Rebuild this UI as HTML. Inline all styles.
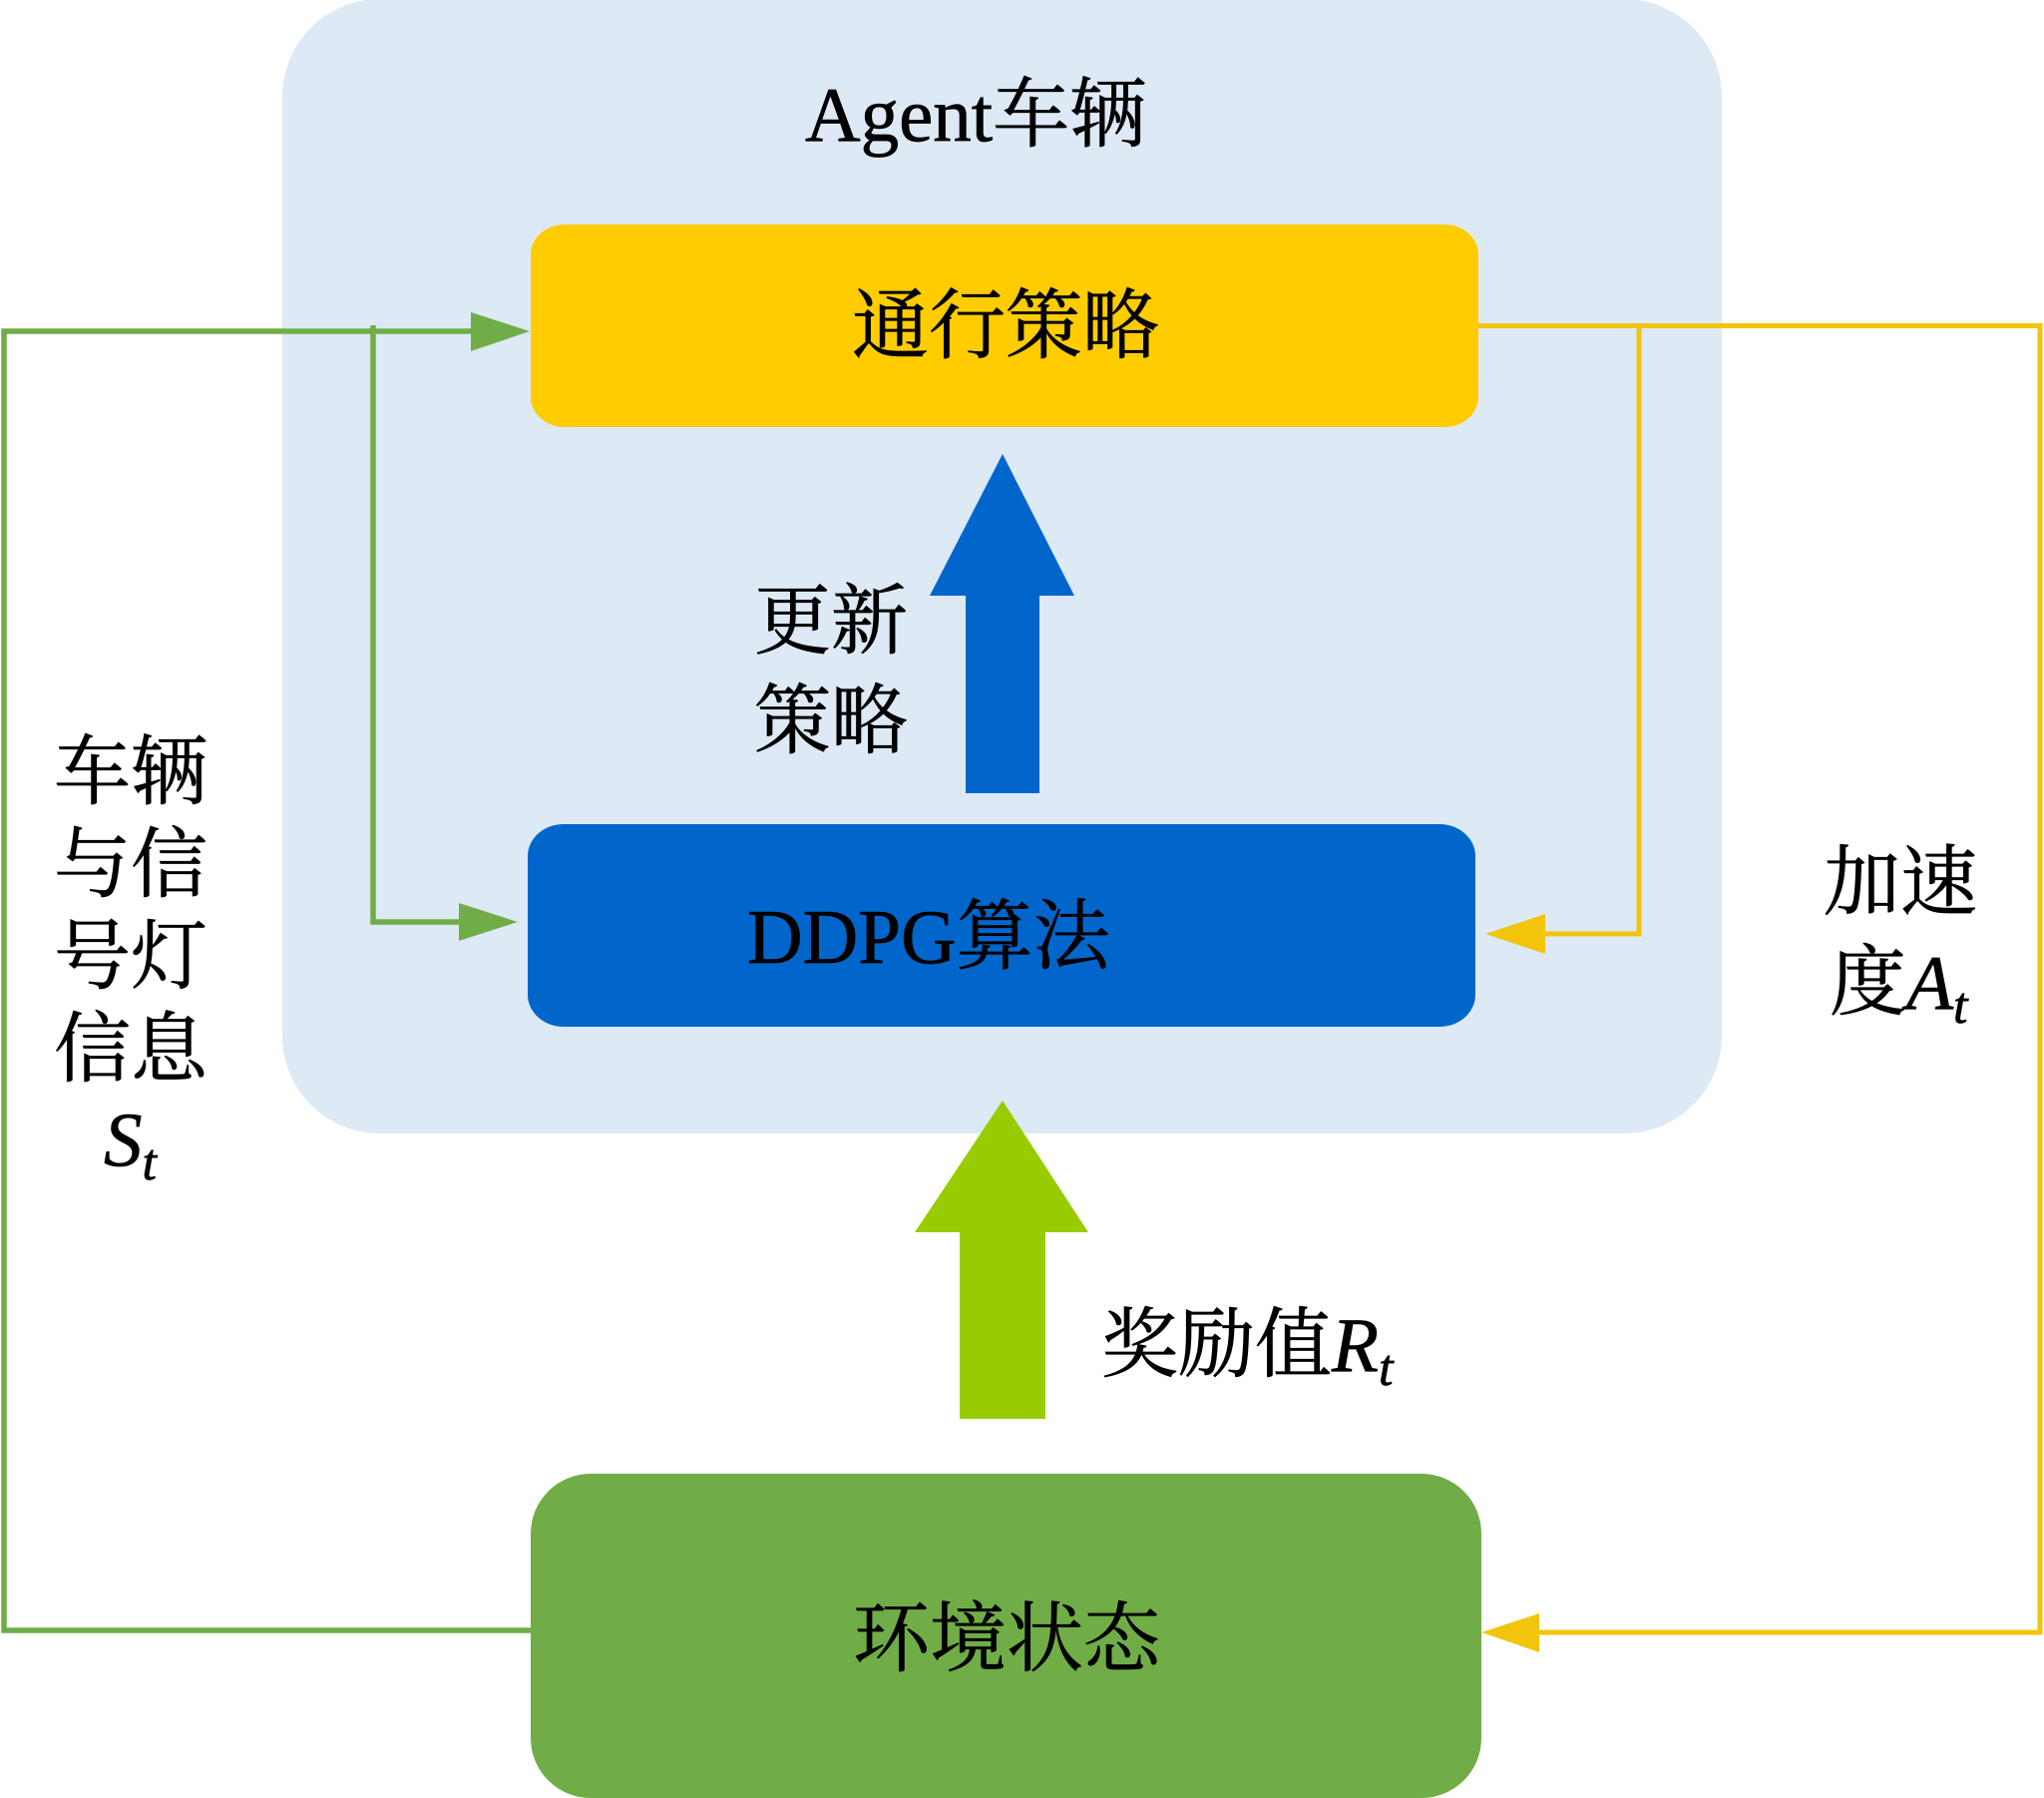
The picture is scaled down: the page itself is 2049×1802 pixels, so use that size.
<!DOCTYPE html>
<html>
<head>
<meta charset="utf-8">
<style>
html,body{margin:0;padding:0;background:#fff;width:2049px;height:1802px;overflow:hidden}
svg{display:block}
text{font-family:"Liberation Serif","Noto Serif CJK SC",serif;font-size:77px;fill:#000;stroke:#000;stroke-width:.7px}
.i{font-style:italic}
.s{font-style:italic;font-size:52px}
</style>
</head>
<body>
<svg width="2049" height="1802" viewBox="0 0 2049 1802" xmlns="http://www.w3.org/2000/svg">
<rect x="283" y="-1" width="1443" height="1137" rx="98" ry="98" fill="#dde9f5"/>
<rect x="532" y="225" width="950" height="203" rx="34" ry="30" fill="#ffcc00"/>
<rect x="529" y="826" width="950" height="203" rx="36" ry="32" fill="#0066cc"/>
<rect x="532" y="1477" width="953" height="325" rx="60" ry="60" fill="#70ad47"/>

<polygon points="1005,455 1077,597 1042,597 1042,795 968,795 968,597 932,597" fill="#0066cc"/>
<polygon points="1005,1103 1091,1235 1048,1235 1048,1422 962,1422 962,1235 917,1235" fill="#99cc00"/>

<g fill="none" stroke="#70ad47" stroke-width="5.5">
<polyline points="532,1634 4,1634 4,332 475,332"/>
<polyline points="374,326 374,924 465,924"/>
</g>
<polygon points="472,313 531,332 472,352" fill="#70ad47"/>
<polygon points="460,905 519,924 460,943" fill="#70ad47"/>

<g fill="none" stroke="#f2c40c" stroke-width="5">
<polyline points="1482,326.5 2045,326.5 2045,1636 1540,1636"/>
<polyline points="1643,326.5 1643,936 1545,936"/>
</g>
<polygon points="1485,1636 1543,1617 1543,1656" fill="#f2c40c"/>
<polygon points="1489,936 1549,916 1549,956" fill="#f2c40c"/>

<text x="807" y="141">Agent车辆</text>
<text x="854" y="353">通行策略</text>
<text x="756" y="649">更新</text>
<text x="756" y="749">策略</text>
<text x="749" y="965">DDPG算法</text>
<text x="1104" y="1374">奖励值<tspan class="i">R</tspan><tspan class="s" dy="14">t</tspan></text>
<text x="855" y="1669">环境状态</text>

<text x="54" y="800">车辆</text>
<text x="54" y="893">与信</text>
<text x="54" y="985">号灯</text>
<text x="54" y="1078">信息</text>
<text x="104" y="1168"><tspan class="i">S</tspan><tspan class="s" dy="14">t</tspan></text>

<text x="1828" y="911">加速</text>
<text x="1834" y="1011">度<tspan class="i">A</tspan><tspan class="s" dy="14">t</tspan></text>
</svg>
</body>
</html>
